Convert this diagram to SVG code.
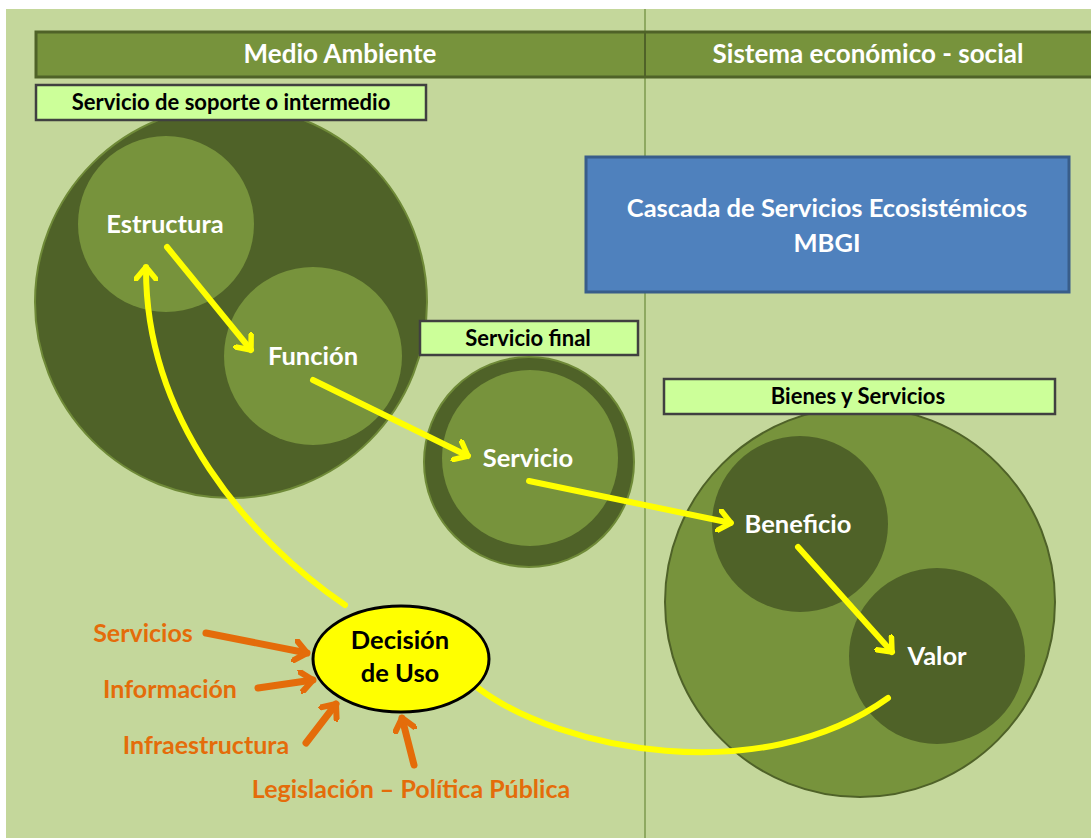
<svg xmlns="http://www.w3.org/2000/svg" width="1091" height="838" viewBox="0 0 1091 838">
<style>
.lbl{font-family:Lato,"Liberation Sans",sans-serif;font-weight:bold;text-anchor:middle}
.wt{fill:#ffffff;font-size:25.5px}
.hd{fill:#ffffff;font-size:26px}
.bx{fill:#000000;font-size:22px}
.or{fill:#e46c0a;font-size:25px}
.tag{fill:#ccff99;stroke:#404040;stroke-width:2.5}
.dark{fill:#4f6228}
.mid{fill:#77933c}
.ya{fill:none;stroke:#ffff00;stroke-width:6;stroke-linecap:round}
.oa{fill:none;stroke:#e46c0a;stroke-width:7;stroke-linecap:round}
</style>
<defs>
<marker id="yh" viewBox="-14 -12 16 24" refX="0" refY="0" markerWidth="16" markerHeight="24" markerUnits="userSpaceOnUse" orient="auto">
<polyline points="-12,-10 0,0 -12,10" fill="none" stroke="#ffff00" stroke-width="5.5" stroke-linecap="round" stroke-linejoin="round"/>
</marker>
<marker id="oh" viewBox="-14 -12 16 24" refX="0" refY="0" markerWidth="16" markerHeight="24" markerUnits="userSpaceOnUse" orient="auto">
<polyline points="-12,-10 0,0 -12,10" fill="none" stroke="#e46c0a" stroke-width="6" stroke-linecap="round" stroke-linejoin="round"/>
</marker>
</defs>
<rect x="0" y="0" width="1091" height="838" fill="#ffffff"/>
<rect x="6" y="9" width="1085" height="829" fill="#c4d79b"/>
<line x1="645" y1="9" x2="645" y2="838" stroke="#6b8a3a" stroke-width="1.2"/>

<g id="header">
<rect x="36" y="32" width="1060" height="45" fill="#77933c" stroke="#4f6228" stroke-width="3"/>
<line x1="645" y1="32" x2="645" y2="77" stroke="#4f6228" stroke-width="2"/>
<text class="lbl hd" x="340" y="63">Medio Ambiente</text>
<text class="lbl hd" x="868" y="63">Sistema económico - social</text>
</g>

<g id="soporte">
<circle class="dark" cx="231" cy="302" r="196" stroke="#6f8a38" stroke-width="2"/>
<rect class="tag" x="36" y="85" width="390" height="35"/>
<text class="lbl bx" x="231" y="110">Servicio de soporte o intermedio</text>
</g>
<g id="estructura">
<circle class="mid" cx="166" cy="224" r="88"/>
<text class="lbl wt" x="165" y="233">Estructura</text>
</g>
<g id="funcion">
<circle class="mid" cx="313" cy="356" r="89"/>
<text class="lbl wt" x="313" y="365">Función</text>
</g>

<g id="servicio-final">
<rect class="tag" x="420" y="321" width="218" height="34"/>
<text class="lbl bx" x="528" y="346">Servicio final</text>
<circle class="dark" cx="529" cy="462" r="105" stroke="#6f8a38" stroke-width="2"/>
<circle class="mid" cx="530" cy="458" r="88"/>
<text class="lbl wt" x="528" y="467">Servicio</text>
</g>

<g id="cascada">
<rect x="586" y="157" width="483" height="135" fill="#4f81bd" stroke="#385d8a" stroke-width="3"/>
<text class="lbl wt" x="827" y="217">Cascada de Servicios Ecosistémicos</text>
<text class="lbl wt" x="827" y="252">MBGI</text>
</g>

<g id="bienes">
<circle class="mid" cx="860" cy="602" r="195" stroke="#4f6228" stroke-width="2"/>
<rect class="tag" x="664" y="379" width="391" height="35"/>
<text class="lbl bx" x="858" y="404">Bienes y Servicios</text>
</g>
<g id="beneficio">
<circle class="dark" cx="800" cy="524" r="88"/>
<text class="lbl wt" x="798" y="533">Beneficio</text>
</g>
<g id="valor">
<circle class="dark" cx="937" cy="656" r="88"/>
<text class="lbl wt" x="937" y="665">Valor</text>
</g>

<g id="connectors">
<line class="ya" x1="167" y1="247" x2="251" y2="350" marker-end="url(#yh)"/>
<line class="ya" x1="313" y1="380" x2="468" y2="456" marker-end="url(#yh)"/>
<line class="ya" x1="529" y1="481" x2="731" y2="523" marker-end="url(#yh)"/>
<line class="ya" x1="798" y1="547" x2="892" y2="652" marker-end="url(#yh)"/>
<path class="ya" d="M 888 698 C 760 790, 560 750, 478 688"/>
<path class="ya" d="M 345 605 C 250 540, 145 420, 146 267" marker-end="url(#yh)"/>
<line class="oa" x1="206" y1="633" x2="307" y2="653" marker-end="url(#oh)"/>
<line class="oa" x1="258" y1="688" x2="313" y2="680" marker-end="url(#oh)"/>
<line class="oa" x1="306" y1="743" x2="336" y2="704" marker-end="url(#oh)"/>
<line class="oa" x1="414" y1="765" x2="402" y2="718" marker-end="url(#oh)"/>
</g>

<g id="decision">
<ellipse cx="401" cy="659" rx="88" ry="53" fill="#ffff00" stroke="#000000" stroke-width="3"/>
<text class="lbl" x="400" y="649" font-size="25.5" fill="#000000">Decisión</text>
<text class="lbl" x="400" y="682" font-size="25.5" fill="#000000">de Uso</text>
</g>

<g id="inputs">
<text class="lbl or" x="143" y="642">Servicios</text>
<text class="lbl or" x="170" y="698">Información</text>
<text class="lbl or" x="206" y="754">Infraestructura</text>
<text class="lbl or" x="411" y="798" font-size="26.5">Legislación – Política Pública</text>
</g>
</svg>
